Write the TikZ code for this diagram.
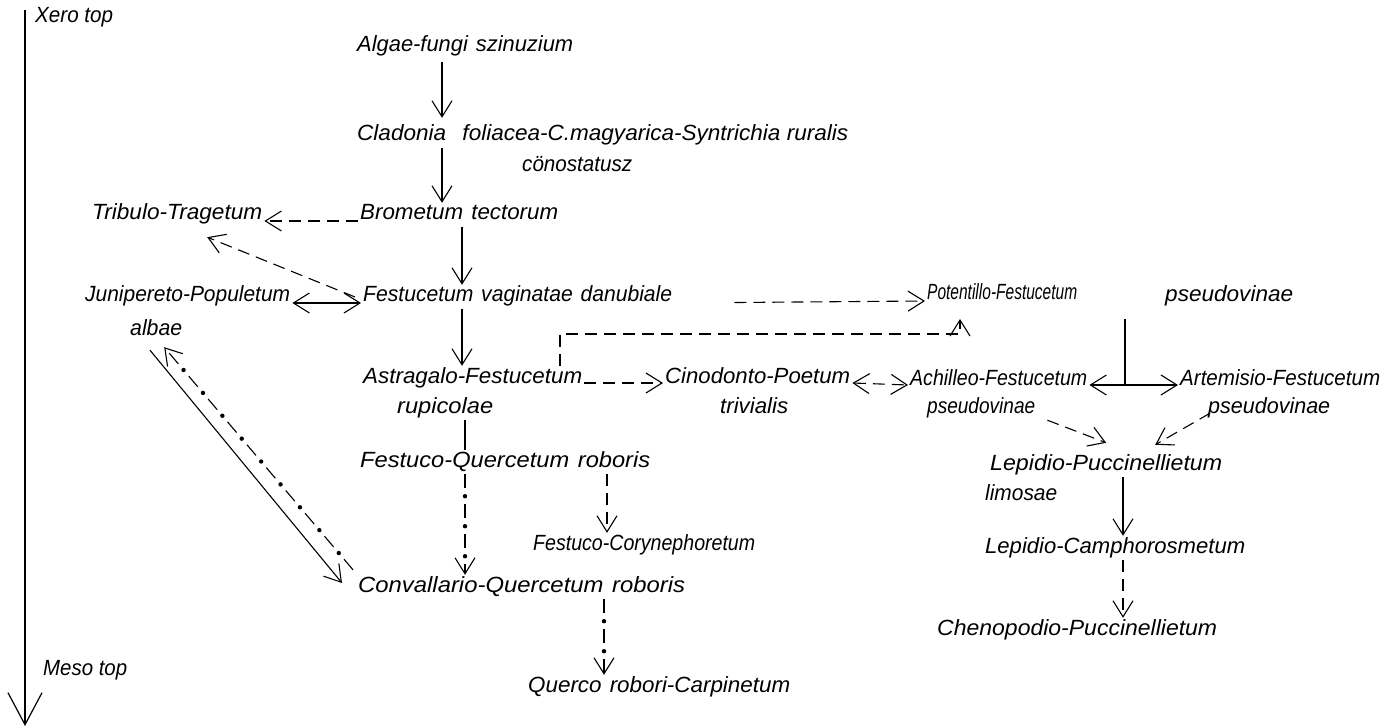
\documentclass[tikz,border=0pt]{standalone}
\usepackage{fontspec}
\setmainfont{Liberation Sans}
\usetikzlibrary{arrows.meta,decorations.markings}
\newcommand\ws{\hspace{8pt}}
\newcommand\fw[2]{\resizebox{#1pt}{\height}{#2}}
\begin{document}
\begin{tikzpicture}[x=1pt,y=-1pt,
  lab/.style={font=\fontsize{22}{26}\selectfont\itshape, inner sep=2pt, anchor=west, text height=15pt, text depth=5pt},
  ln/.style={line width=1.1pt},
  >={Straight Barb[length=16pt,width=20pt]},
  arr/.style={ln,->},
  dsh/.style={ln, dash pattern=on 12pt off 7pt},
  dd/.style={ln, dash pattern=on 14pt off 16pt,
    postaction={decorate, decoration={markings,
      mark=between positions 22pt and -6pt step 30pt with {\fill (0,0) circle (2.2pt);}}}},
  axisarr/.style={line width=1.2pt, -{Straight Barb[length=32pt,width=34pt]}}
]
\useasboundingbox (0,0) rectangle (1387,727);
% column coordinates
\coordinate (cA) at (442,0);
\coordinate (cB) at (462,0);
\coordinate (cC) at (465,0);
\coordinate (cD) at (607,0);
\coordinate (cE) at (604,0);
\coordinate (cF) at (1123,0);
\coordinate (jx) at (1125,0);
\coordinate (elbA) at (560,334);
\coordinate (elbB) at (960,334);
\coordinate (potin) at (960,319);
\coordinate (axtop) at (25,10);
\coordinate (axbot) at (25,726);

% nodes
\node[lab] (xero) at (33,18) {\fw{78}{Xero top}};
\node[lab] (meso) at (41,670) {\fw{84}{Meso top}};
\node[lab] (algae) at (355,47) {\fw{216}{Algae-fungi\ws szinuzium}};
\node[lab] (clad) at (355,136) {\fw{491}{Cladonia\ws\ws foliacea-C.magyarica-Syntrichia ruralis}};
\node[lab] (cono) at (520,167) {\fw{110}{cönostatusz}};
\node[lab] (brom) at (358,215) {\fw{198}{Brometum\ws tectorum}};
\node[lab] (trib) at (90,215) {\fw{170}{Tribulo-Tragetum}};
\node[lab] (juni) at (83,297) {\fw{205}{Junipereto-Populetum}};
\node[lab] (albae) at (128,330) {\fw{52}{albae}};
\node[lab] (fest) at (361,297) {\fw{309}{Festucetum\ws vaginatae\ws danubiale}};
\node[lab] (pot) at (925,295) {\fw{150}{Potentillo-Festucetum}};
\node[lab] (potp) at (1163,297) {\fw{128}{pseudovinae}};
\node[lab] (astr) at (361,378) {\fw{219}{Astragalo-Festucetum}};
\node[lab] (rup) at (395,408) {\fw{96}{rupicolae}};
\node[lab] (cino) at (663,378) {\fw{185}{Cinodonto-Poetum}};
\node[lab] (triv) at (718,408) {\fw{68}{trivialis}};
\node[lab] (achi) at (908,380) {\fw{177}{Achilleo-Festucetum}};
\node[lab] (achp) at (925,408) {\fw{108}{pseudovinae}};
\node[lab] (arte) at (1178,380) {\fw{200}{Artemisio-Festucetum}};
\node[lab] (artp) at (1206,408) {\fw{122}{pseudovinae}};
\node[lab] (fq) at (358,462) {\fw{290}{Festuco-Quercetum\ws roboris}};
\node[lab] (fc) at (531,545) {\fw{222}{Festuco-Corynephoretum}};
\node[lab] (conv) at (356,587) {\fw{327}{Convallario-Quercetum\ws roboris}};
\node[lab] (querco) at (526,687) {\fw{262}{Querco\ws robori-Carpinetum}};
\node[lab] (lp) at (988,465) {\fw{232}{Lepidio-Puccinellietum}};
\node[lab] (lim) at (983,495) {\fw{72}{limosae}};
\node[lab] (lc) at (983,548) {\fw{260}{Lepidio-Camphorosmetum}};
\node[lab] (cheno) at (935,630) {\fw{280}{Chenopodio-Puccinellietum}};

% axis
\draw[axisarr] (axtop) -- (axbot);

% main column
\draw[arr,shorten <=3pt,shorten >=6pt] (algae.south -| cA) -- (clad.north -| cA);
\draw[arr] (clad.south -| cA) -- (brom.north -| cA);
\draw[arr] (brom.south -| cB) -- (fest.north -| cB);
\draw[arr] (fest.south -| cB) -- (astr.north -| cB);
\draw[ln] (rup.south -| cC) -- (fq.north -| cC);
\draw[dd,->] (fq.south -| cC) -- (conv.north -| cC);
\draw[dsh,->] (fq.south -| cD) -- (fc.north -| cD);
\draw[dd,->] (conv.south -| cE) -- (querco.north -| cE);

% left side
\draw[dsh,->] ([yshift=-6pt]brom.west) -- ([yshift=-6pt]trib.east);
\draw[dsh,->] ([xshift=-6pt]fest.west) -- ([xshift=30pt,yshift=-10pt]trib.south);
\draw[ln,<->] ([yshift=-6pt]juni.east) -- ([yshift=-6pt]fest.west);
\draw[dd,->] ([shift={(-3pt,5pt)}]conv.north west) -- ([shift={(8pt,-5pt)}]albae.south);
\draw[arr] ([shift={(22pt,-8pt)}]albae.south west) -- ([shift={(-14pt,4pt)}]conv.west);

% right side
\draw[dsh,->,shorten <=60pt] ([yshift=-6pt]fest.east) -- ([yshift=-6pt]pot.west);
\draw[dsh,->] (astr.north -| elbA) -- (elbA) -- (elbB) -- (potin);
\draw[dsh,->] ([yshift=-5pt]astr.east) -- ([yshift=-5pt]cino.west);
\draw[dsh,<->] ([yshift=-5pt]cino.east) -- ([yshift=-5pt]achi.west);
\draw[ln,shorten <=12pt] (pot.south -| jx) -- ([yshift=-5pt]achi.east -| jx);
\draw[ln,<->] ([yshift=-5pt]achi.east) -- ([yshift=-5pt]arte.west);
\draw[dsh,->] ([shift={(-42pt,-28pt)}]achi.south east) -- ([yshift=10pt]lp.north);
\draw[dsh,->] ([shift={(32pt,-21pt)}]arte.south west) -- ([shift={(49pt,8pt)}]lp.north);
\draw[arr] (lp.south -| cF) -- (lc.north -| cF);
\draw[dsh,->] (lc.south -| cF) -- (cheno.north -| cF);
\end{tikzpicture}
\end{document}
